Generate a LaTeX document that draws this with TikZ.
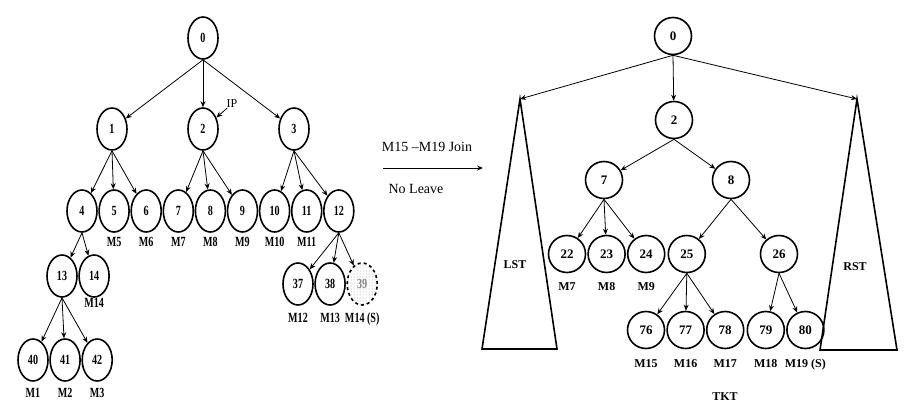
\documentclass[tikz,border=0pt]{standalone}
\usepackage{fontspec}
\setmainfont{Liberation Serif}
\newfontfamily\narrowserif[FakeStretch=0.72]{Liberation Serif}
\usetikzlibrary{arrows.meta,positioning,shapes.geometric,patterns}

\begin{document}
\begin{tikzpicture}[
  x=1pt, y=-1pt,
  node distance=0.5pt,
  lnode/.style={draw, ellipse, line width=1.6pt, minimum width=30pt, minimum height=42pt, inner sep=0pt, font=\narrowserif\fontsize{14}{15}\selectfont\bfseries},
  rnode/.style={draw, circle, line width=1.6pt, minimum size=37pt, inner sep=0pt, font=\fontsize{13}{14}\selectfont\bfseries},
  lmlab/.style={inner sep=0pt, font=\narrowserif\fontsize{14}{15}\selectfont\bfseries},
  mlab/.style={inner sep=0pt, font=\fontsize{12}{13}\selectfont\bfseries},
  note/.style={inner sep=0pt, font=\fontsize{14}{16}\selectfont},
  arrow/.style={-{Stealth[length=6pt,width=5pt]}, line width=0.8pt}
]
\useasboundingbox (0,0) rectangle (904,415);

% left tree
\node[lnode] (l0) at (203,38) {0};
\node[lnode] (l1) at (112,129) {1};
\node[lnode] (l2) at (203,129) {2};
\node[lnode] (l3) at (294,129) {3};
\node[lnode] (l4) at (82,211) {4};
\node[lnode, right=of l4] (l5) {5};
\node[lnode, right=of l5] (l6) {6};
\node[lnode, right=of l6] (l7) {7};
\node[lnode, right=of l7] (l8) {8};
\node[lnode, right=of l8] (l9) {9};
\node[lnode, right=of l9] (l10) {10};
\node[lnode, right=of l10] (l11) {11};
\node[lnode, right=of l11] (l12) {12};
\node[lnode] (l13) at (62,276) {13};
\node[lnode, right=of l13] (l14) {14};
\node[lnode] (l37) at (298,284) {37};
\node[lnode, right=of l37] (l38) {38};
\node[lnode, right=of l38, dashed, pattern=dots, pattern color=gray!80] (l39) {\textcolor{gray}{39}};
\node[lnode] (l40) at (33,360) {40};
\node[lnode, right=of l40] (l41) {41};
\node[lnode, right=of l41] (l42) {42};

\foreach \i in {5,...,11}
  \node[lmlab, below=4pt of l\i] (ml\i) {M\i};
\node[lmlab, below=0pt of l14] (ml14) {M14};
\node[lmlab, below=7pt of l37] (ml37) {M12};
\node[lmlab, below=7pt of l38] (ml38) {M13};
\node[lmlab, below=7pt of l39] (ml39) {M14 (S)};
\node[lmlab, below=6pt of l40] (ml40) {M1};
\node[lmlab, below=6pt of l41] (ml41) {M2};
\node[lmlab, below=6pt of l42] (ml42) {M3};

\foreach \p/\c in {l0/l1, l0/l2, l0/l3, l1/l4, l1/l5, l1/l6, l2/l7, l2/l8, l2/l9,
                   l3/l10, l3/l11, l3/l12, l4/l13, l4/l14, l13/l40, l13/l41, l13/l42,
                   l12/l37, l12/l38, l12/l39}
  \draw[arrow] (\p.south) -- (\c);

\node[inner sep=0pt, font=\fontsize{12}{13}\selectfont] (ip) at (232,104) {IP};
\draw[arrow] (ip) -- (l2);

% join step
\node[note] (join) at (427,147) {M15 –M19 Join};
\coordinate (step from) at (383,168);
\coordinate (step to) at (483,168);
\draw[arrow] (step from) -- (step to);
\node[note] (leave) at (416,189) {No Leave};

% right tree
\node[rnode] (r0) at (673,36) {0};
\node[rnode] (r2) at (674,120) {2};
\node[rnode] (r7) at (604,180) {7};
\node[rnode] (r8) at (731,180) {8};
\node[rnode] (r22) at (567,254) {22};
\node[rnode, right=1pt of r22] (r23) {23};
\node[rnode, right=1pt of r23] (r24) {24};
\node[rnode, right=2pt of r24] (r25) {25};
\node[rnode] (r26) at (779,254) {26};
\node[rnode] (r76) at (646,330) {76};
\node[rnode, right=1pt of r76] (r77) {77};
\node[rnode, right=1pt of r77] (r78) {78};
\node[rnode, right=2pt of r78] (r79) {79};
\node[rnode, right=1pt of r79] (r80) {80};

\node[mlab, below=9pt of r22] (mr22) {M7};
\node[mlab, below=9pt of r23] (mr23) {M8};
\node[mlab, below=9pt of r24] (mr24) {M9};
\node[mlab, below=10pt of r76] (mr76) {M15};
\node[mlab, below=10pt of r77] (mr77) {M16};
\node[mlab, below=10pt of r78] (mr78) {M17};
\node[mlab, below=10pt of r79] (mr79) {M18};
\node[mlab, below=10pt of r80] (mr80) {M19 (S)};
\node[mlab] (tkt) at (725,397) {TKT};

\foreach \p/\c in {r0/r2, r2/r7, r2/r8, r7/r22, r7/r23, r7/r24, r8/r25, r8/r26,
                   r25/r76, r25/r77, r25/r78, r26/r79, r26/r80}
  \draw[arrow] (\p.south) -- (\c);

% subtrees
\coordinate (lst top) at (520,99);
\coordinate (rst top) at (857,99);
\draw[line width=1.6pt] (lst top) -- (482,349) -- (557,349) -- cycle;
\draw[line width=1.6pt] (rst top) -- (820,350) -- (897,350) -- cycle;
\node[mlab] (lst) at (515,265) {LST};
\node[mlab] (rst) at (855,267) {RST};
\draw[arrow] (r0.south) -- (lst top);
\draw[arrow] (r0.south) -- (rst top);
\end{tikzpicture}
\end{document}
